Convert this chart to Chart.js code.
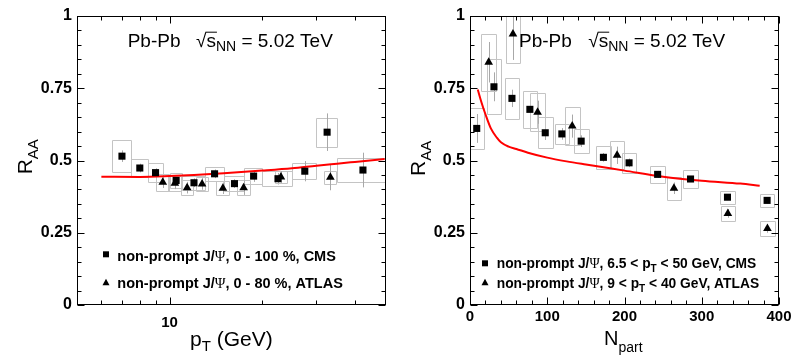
<!DOCTYPE html>
<html><head><meta charset="utf-8">
<script src="https://cdn.jsdelivr.net/npm/chart.js@4/dist/chart.umd.min.js"></script>
<style>
html,body{margin:0;padding:0;background:#fff;}
#wrap{position:relative;width:809px;height:359px;overflow:hidden;background:#fff;}
canvas{position:absolute;top:0;}
#c1{left:0;} #c2{left:400px;}
</style></head><body>
<div id="wrap"><canvas id="c1" width="400" height="359"></canvas><canvas id="c2" width="409" height="359"></canvas></div>
<script>
// ---------- Left panel: R_AA vs pT ----------
const ptCmsX    = [7, 8, 9, 10.5, 12, 14, 16.25, 18.75, 22.5, 27.5, 32.5, 42.5];
const ptCmsXLo  = [6.5, 7.5, 8.5, 10, 11, 13, 15, 17.5, 20, 25, 30, 35];
const ptCmsXHi  = [7.5, 8.5, 9.5, 11, 13, 15, 17.5, 20, 25, 30, 35, 50];
const ptCmsY    = [0.515, 0.474, 0.458, 0.431, 0.423, 0.454, 0.42, 0.446, 0.437, 0.463, 0.598, 0.467];
const ptCmsStat = [0.02, 0.015, 0.015, 0.015, 0.015, 0.015, 0.015, 0.02, 0.02, 0.035, 0.065, 0.06];
const ptCmsSyst = [0.055, 0.03, 0.033, 0.025, 0.025, 0.024, 0.025, 0.027, 0.026, 0.028, 0.05, 0.04];

const ptAtlasX    = [9.5, 10.4, 11.4, 12.75, 14.9, 17.4, 23, 33.3];
const ptAtlasXLo  = [9.05, 9.9, 10.9, 12.2, 14.2, 16.6, 22.0, 31.8];
const ptAtlasXHi  = [9.95, 10.9, 11.9, 13.3, 15.6, 18.2, 24.0, 34.8];
const ptAtlasY    = [0.425, 0.421, 0.406, 0.419, 0.404, 0.406, 0.443, 0.442];
const ptAtlasStat = [0.02, 0.02, 0.02, 0.02, 0.02, 0.025, 0.02, 0.045];
const ptAtlasSyst = [0.03, 0.026, 0.026, 0.025, 0.025, 0.025, 0.022, 0.022];

const modelPtX = [6, 8, 10, 12, 15, 20, 25, 30, 35, 40, 50];
const modelPtY = [0.444, 0.443, 0.446, 0.450, 0.456, 0.465, 0.473, 0.482, 0.489, 0.495, 0.505];

const ptAxisTicks = [6, 7, 8, 9, 10, 20, 30, 40];
const ptAxisLabels = [10];

// ---------- Right panel: R_AA vs Npart ----------
const npCmsX    = [8.7, 31, 54.3, 77.5, 97.4, 118.9, 143.9, 172.7, 205.9, 242.9, 285.5, 333.3, 384.6];
const npCmsY    = [0.611, 0.755, 0.715, 0.677, 0.596, 0.592, 0.567, 0.511, 0.492, 0.452, 0.436, 0.373, 0.362];
const npCmsSyst = [0.07, 0.095, 0.072, 0.063, 0.053, 0.034, 0.041, 0.04, 0.035, 0.03, 0.03, 0.023, 0.022];
const npCmsStat = [0.05, 0.05, 0.03, 0.03, 0.025, 0.02, 0.02, 0.015, 0.015, 0.012, 0.01, 0.01, 0.01];

const npAtlasX    = [24.2, 55.6, 87.5, 132.3, 190.4, 264, 333.8, 385];
const npAtlasY    = [0.84, 0.938, 0.667, 0.619, 0.518, 0.404, 0.317, 0.265];
const npAtlasSyst = [0.098, 0.10, 0.065, 0.065, 0.048, 0.039, 0.025, 0.026];
const npAtlasStat = [0.07, 0.09, 0.04, 0.04, 0.03, 0.02, 0.015, 0.015];
const npBoxHalfWidth = 9.5;

const modelNpX = [10, 15, 20, 27, 35, 40, 50, 60, 75, 100, 125, 150, 200, 250, 300, 350, 375];
const modelNpY = [0.746, 0.70, 0.66, 0.611, 0.578, 0.563, 0.548, 0.54, 0.527, 0.51, 0.497, 0.486, 0.465, 0.444, 0.43, 0.42, 0.413];

const yTickLabels = [0, 0.25, 0.5, 0.75, 1];

// ---------- helpers ----------
const SANS = '"Liberation Sans", Arial, Helvetica, sans-serif';
const SERIF = '"Liberation Serif", "Times New Roman", serif';
const pts = (xs, ys) => xs.map((x, i) => ({x: x, y: ys[i]}));

function drawParts(ctx, x, y, parts) {
  let cx = x;
  for (const p of parts) {
    ctx.font = (p.w || 'normal') + ' ' + p.s + 'px ' + (p.f || SANS);
    ctx.fillText(p.t, cx, y + (p.dy || 0));
    cx += ctx.measureText(p.t).width;
  }
  return cx;
}

function drawHeader(ctx, hx, sqx, base) {
  drawParts(ctx, hx, base, [{t: 'Pb-Pb', s: 19}]);
  ctx.font = 'normal 19px ' + SANS;
  ctx.fillText('\u221A', sqx, base);
  const sx = sqx + ctx.measureText('\u221A').width;
  ctx.fillText('s', sx, base);
  const sw = ctx.measureText('s').width;
  ctx.beginPath();
  ctx.lineWidth = 1;
  ctx.strokeStyle = '#000';
  ctx.moveTo(sx - 1, base - 14.5);
  ctx.lineTo(sx + sw + 1, base - 14.5);
  ctx.stroke();
  drawParts(ctx, sx + sw, base, [{t: 'NN', s: 14, dy: 4}, {t: ' = 5.02 TeV', s: 19}]);
}

function legendRow(ctx, mx, my, style, tx, ty, parts) {
  ctx.fillStyle = '#000';
  ctx.beginPath();
  if (style === 'rect') {
    ctx.rect(mx - 3, my - 3, 6, 6);
  } else {
    ctx.moveTo(mx, my - 4);
    ctx.lineTo(mx + 3.5, my + 2.5);
    ctx.lineTo(mx - 3.5, my + 2.5);
    ctx.closePath();
  }
  ctx.fill();
  drawParts(ctx, tx, ty, parts);
}

function yTitle(ctx, bx, by) {
  ctx.save();
  ctx.translate(bx, by);
  ctx.rotate(-Math.PI / 2);
  drawParts(ctx, 0, 0, [{t: 'R', s: 21}, {t: 'AA', s: 15, dy: 6}]);
  ctx.restore();
}

const LEG = 14.5;
const LEG2 = 13.8;
const decor = {
  c1: {
    xTicks: ptAxisTicks, xMajor: v => v === 10,
    series: [
      {x: ptCmsX, y: ptCmsY, stat: ptCmsStat, syst: ptCmsSyst, xlo: ptCmsXLo, xhi: ptCmsXHi},
      {x: ptAtlasX, y: ptAtlasY, stat: ptAtlasStat, syst: ptAtlasSyst, xlo: ptAtlasXLo, xhi: ptAtlasXHi}
    ],
    texts(ctx) {
      drawHeader(ctx, 127.7, 196, 46.7);
      drawParts(ctx, 190, 345.7, [{t: 'p', s: 21}, {t: 'T', s: 15, dy: 5}, {t: ' (GeV)', s: 21}]);
      yTitle(ctx, 31.7, 174.3);
      legendRow(ctx, 106, 254.3, 'rect', 117.3, 260.7, [
        {t: 'non-prompt J/', s: LEG, w: 'bold'}, {t: '\u03A8', s: LEG, f: SERIF},
        {t: ', 0 - 100 %, CMS', s: LEG, w: 'bold'}]);
      legendRow(ctx, 106, 282.7, 'tri', 117.3, 288.3, [
        {t: 'non-prompt J/', s: LEG, w: 'bold'}, {t: '\u03A8', s: LEG, f: SERIF},
        {t: ', 0 - 80 %, ATLAS', s: LEG, w: 'bold'}]);
    }
  },
  c2: {
    xTicks: Array.from({length: 21}, (_, i) => i * 20), xMajor: v => v % 100 === 0,
    series: [
      {x: npCmsX, y: npCmsY, stat: npCmsStat, syst: npCmsSyst,
       xlo: npCmsX.map(v => v - npBoxHalfWidth), xhi: npCmsX.map(v => v + npBoxHalfWidth)},
      {x: npAtlasX, y: npAtlasY, stat: npAtlasStat, syst: npAtlasSyst,
       xlo: npAtlasX.map(v => v - npBoxHalfWidth), xhi: npAtlasX.map(v => v + npBoxHalfWidth)}
    ],
    texts(ctx) {
      drawHeader(ctx, 119, 188.3, 46.7);
      drawParts(ctx, 204, 345, [{t: 'N', s: 20}, {t: 'part', s: 14, dy: 6.5}]);
      yTitle(ctx, 24.5, 176);
      legendRow(ctx, 85, 263.3, 'rect', 96.7, 268.3, [
        {t: 'non-prompt J/', s: LEG2, w: 'bold'}, {t: '\u03A8', s: LEG2, f: SERIF},
        {t: ', 6.5 < p', s: LEG2, w: 'bold'}, {t: 'T', s: 10, w: 'bold', dy: 4},
        {t: ' < 50 GeV, CMS', s: LEG2, w: 'bold'}]);
      legendRow(ctx, 85, 282.7, 'tri', 96.7, 288.3, [
        {t: 'non-prompt J/', s: LEG2, w: 'bold'}, {t: '\u03A8', s: LEG2, f: SERIF},
        {t: ', 9 < p', s: LEG2, w: 'bold'}, {t: 'T', s: 10, w: 'bold', dy: 4},
        {t: ' < 40 GeV, ATLAS', s: LEG2, w: 'bold'}]);
    }
  }
};

const decorPlugin = {
  id: 'raaDecor',
  beforeDatasetsDraw(chart) {
    const d = decor[chart.canvas.id];
    const {ctx, chartArea: a, scales: {x, y}} = chart;
    ctx.save();
    ctx.beginPath();
    ctx.rect(a.left, a.top, a.right - a.left, a.bottom - a.top);
    ctx.clip();
    ctx.lineWidth = 1;
    for (const s of d.series) {
      ctx.strokeStyle = '#c4c4c4';
      ctx.beginPath();
      s.x.forEach((xv, i) => {
        const x0 = Math.round(x.getPixelForValue(s.xlo[i])) + 0.5;
        const x1 = Math.round(x.getPixelForValue(s.xhi[i])) + 0.5;
        const y0 = Math.round(y.getPixelForValue(s.y[i] + s.syst[i])) + 0.5;
        const y1 = Math.round(y.getPixelForValue(s.y[i] - s.syst[i])) + 0.5;
        ctx.rect(x0, y0, x1 - x0, y1 - y0);
      });
      ctx.stroke();
      ctx.strokeStyle = '#a8a8a8';
      ctx.beginPath();
      s.x.forEach((xv, i) => {
        const px = Math.round(x.getPixelForValue(xv)) + 0.5;
        ctx.moveTo(px, y.getPixelForValue(s.y[i] + s.stat[i]));
        ctx.lineTo(px, y.getPixelForValue(s.y[i] - s.stat[i]));
      });
      ctx.stroke();
    }
    ctx.restore();
  },
  afterDraw(chart) {
    const d = decor[chart.canvas.id];
    const {ctx, chartArea: a, scales: {x, y}} = chart;
    ctx.save();
    ctx.strokeStyle = '#000';
    ctx.lineWidth = 1;
    const L = Math.round(a.left) + 0.5, R = Math.round(a.right) - 0.5;
    const T = Math.round(a.top) + 0.5, B = Math.round(a.bottom) - 0.5;
    ctx.strokeRect(L, T, R - L, B - T);
    ctx.beginPath();
    for (let k = 0; k <= 20; k++) {
      const v = k * 0.05;
      const py = Math.round(y.getPixelForValue(v)) + 0.5;
      const len = (k % 5 === 0) ? 7 : 4;
      ctx.moveTo(L, py); ctx.lineTo(L + len, py);
      ctx.moveTo(R, py); ctx.lineTo(R - len, py);
    }
    for (const v of d.xTicks) {
      const px = Math.round(x.getPixelForValue(v)) + 0.5;
      const len = d.xMajor(v) ? 7 : 4;
      ctx.moveTo(px, B); ctx.lineTo(px, B - len);
      ctx.moveTo(px, T); ctx.lineTo(px, T + len);
    }
    ctx.stroke();
    ctx.fillStyle = '#000';
    ctx.textBaseline = 'alphabetic';
    ctx.textAlign = 'left';
    d.texts(ctx);
    ctx.restore();
  }
};

const tickFontY = {family: SANS, size: 16, weight: 'bold'};
const tickFontX = {family: SANS, size: 15, weight: 'bold'};

function yScale(width) {
  return {
    min: 0, max: 1,
    grid: {display: false, drawTicks: false}, border: {display: false},
    ticks: {stepSize: 0.25, color: '#000', font: tickFontY, padding: 5,
            callback: v => String(v)},
    afterBuildTicks: s => { s.ticks = yTickLabels.map(v => ({value: v})); },
    afterFit: s => { s.width = width; }
  };
}

function makeChart(id, xScale, yWidth, padRight, sets) {
  return new Chart(document.getElementById(id), {
    type: 'scatter',
    data: {datasets: sets},
    options: {
      responsive: false, animation: false, events: [],
      devicePixelRatio: 1,
      layout: {padding: {left: 0, right: padRight, top: 16, bottom: 0}},
      plugins: {legend: {display: false}, tooltip: {enabled: false}},
      scales: {x: xScale, y: yScale(yWidth)}
    },
    plugins: [decorPlugin]
  });
}

const markerCommon = {backgroundColor: '#000', borderColor: '#000', borderWidth: 0, pointRadius: 5};
const lineCommon = {type: 'line', borderColor: '#ff0000', borderWidth: 2, pointRadius: 0,
                    cubicInterpolationMode: 'monotone', fill: false};

makeChart('c1', {
  type: 'logarithmic', min: 5, max: 50.5,
  grid: {display: false, drawTicks: false}, border: {display: false},
  ticks: {color: '#000', font: tickFontX, padding: 9, maxRotation: 0, callback: v => String(v)},
  afterBuildTicks: s => { s.ticks = ptAxisLabels.map(v => ({value: v})); },
  afterFit: s => { s.height = 54; }
}, 77, 14, [
  Object.assign({label: 'CMS', data: pts(ptCmsX, ptCmsY), pointStyle: 'rect'}, markerCommon),
  Object.assign({label: 'ATLAS', data: pts(ptAtlasX, ptAtlasY), pointStyle: 'triangle'}, markerCommon),
  Object.assign({label: 'model', data: pts(modelPtX, modelPtY)}, lineCommon)
]);

makeChart('c2', {
  type: 'linear', min: 0, max: 400,
  grid: {display: false, drawTicks: false}, border: {display: false},
  ticks: {stepSize: 100, color: '#000', font: tickFontX, padding: 3, maxRotation: 0, callback: v => String(v)},
  afterFit: s => { s.height = 54; }
}, 70, 30, [
  Object.assign({label: 'CMS', data: pts(npCmsX, npCmsY), pointStyle: 'rect'}, markerCommon),
  Object.assign({label: 'ATLAS', data: pts(npAtlasX, npAtlasY), pointStyle: 'triangle'}, markerCommon),
  Object.assign({label: 'model', data: pts(modelNpX, modelNpY)}, lineCommon)
]);
</script>
</body></html>
